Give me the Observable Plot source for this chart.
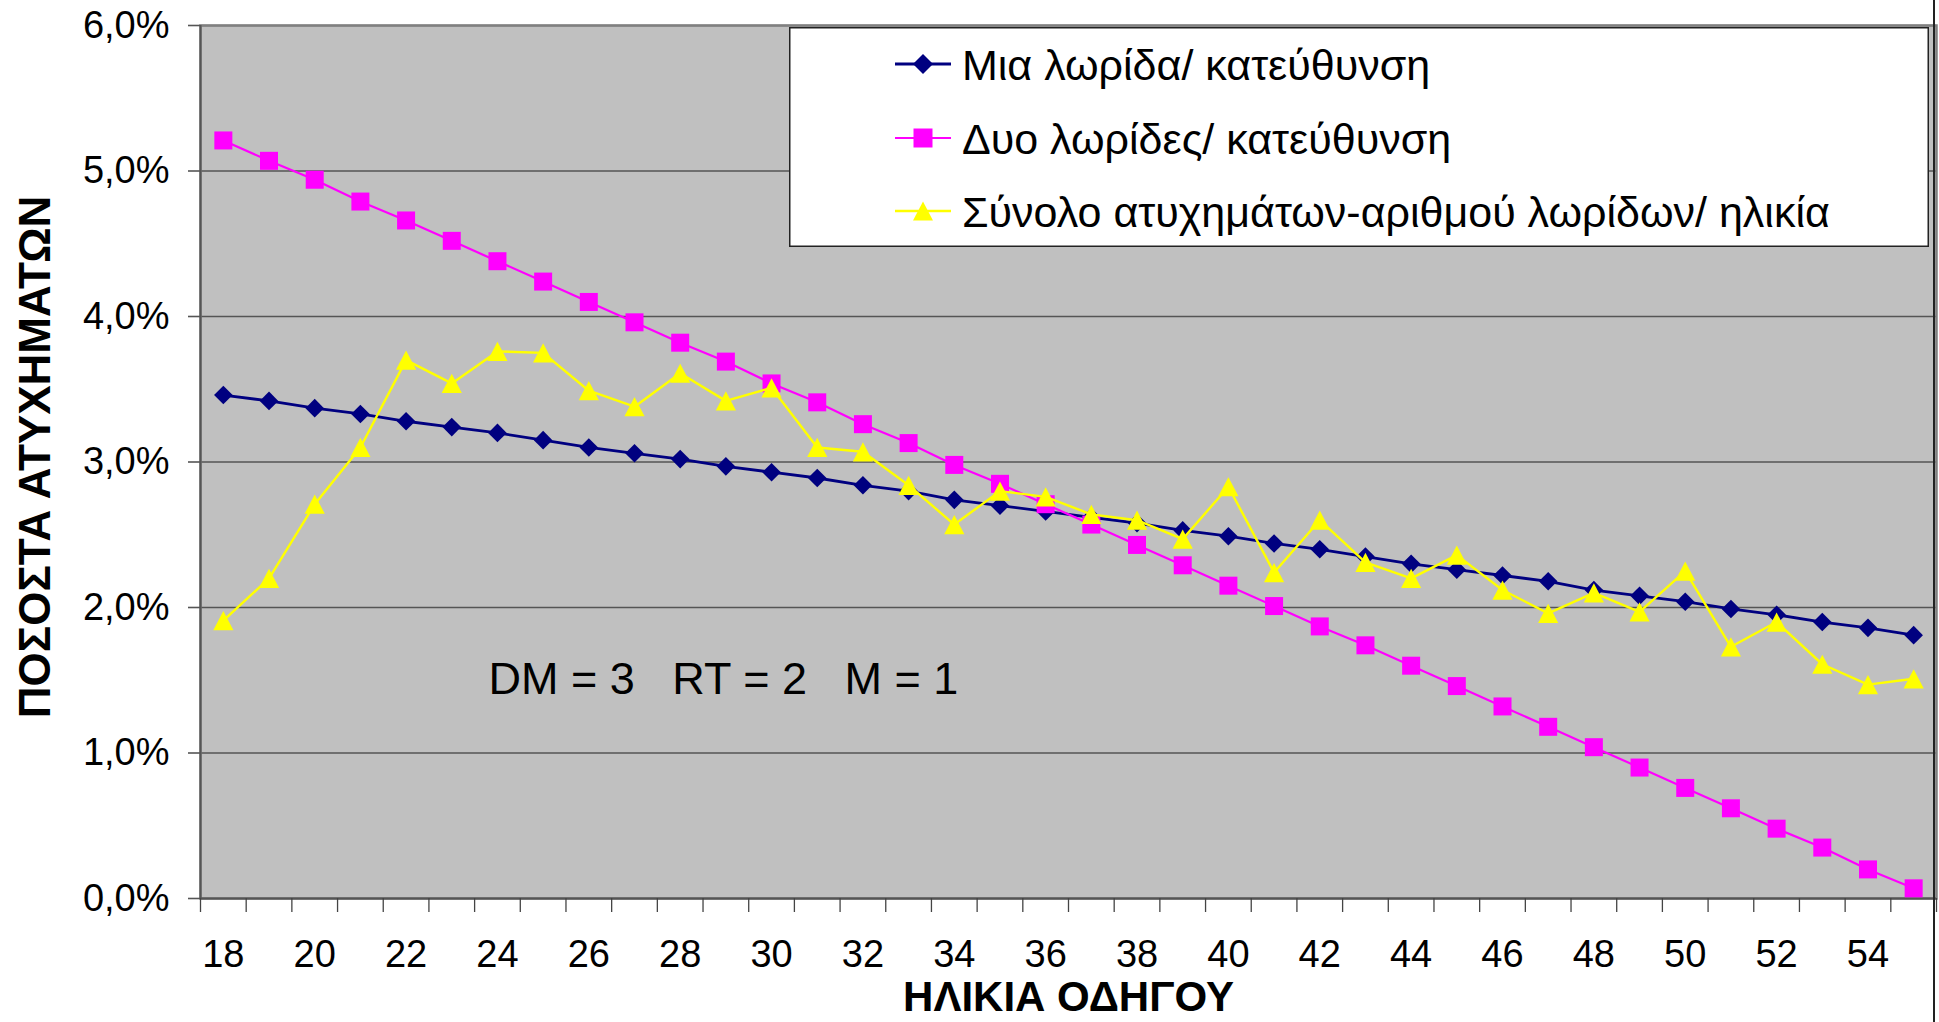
<!DOCTYPE html>
<html>
<head>
<meta charset="utf-8">
<script src="https://cdn.jsdelivr.net/npm/d3@7"></script>
<script src="https://cdn.jsdelivr.net/npm/@observablehq/plot@0.6"></script>
<style>
  html, body { margin: 0; padding: 0; background: #fff; overflow: hidden; }
  #wrap { position: relative; width: 1939px; height: 1022px; font-family: "Liberation Sans", Arial, sans-serif; }
  #legend { position: absolute; left: 789px; top: 27px; }
  #edge { position: absolute; left: 1933px; top: 0; width: 2px; height: 1022px; background: #222; }
</style>
</head>
<body>
<div id="wrap"><div id="chart"></div><div id="legend"></div><div id="edge"></div></div>
<script>
// ---- data ----
const ages = [18,19,20,21,22,23,24,25,26,27,28,29,30,31,32,33,34,35,36,37,38,39,40,41,42,43,44,45,46,47,48,49,50,51,52,53,54,55];
const oneLane = [3.46,3.42,3.37,3.33,3.28,3.24,3.20,3.15,3.10,3.06,3.02,2.97,2.93,2.89,2.84,2.80,2.74,2.70,2.66,2.62,2.58,2.53,2.49,2.44,2.40,2.35,2.30,2.26,2.22,2.18,2.12,2.08,2.04,1.99,1.95,1.90,1.86,1.81];
const twoLanes = [5.21,5.07,4.94,4.79,4.66,4.52,4.38,4.24,4.10,3.96,3.82,3.69,3.54,3.41,3.26,3.13,2.98,2.85,2.71,2.57,2.43,2.29,2.15,2.01,1.87,1.74,1.60,1.46,1.32,1.18,1.04,0.90,0.76,0.62,0.48,0.35,0.20,0.07];
const total = [1.91,2.20,2.71,3.10,3.70,3.54,3.76,3.75,3.49,3.38,3.61,3.42,3.51,3.10,3.07,2.84,2.57,2.80,2.76,2.64,2.60,2.47,2.83,2.24,2.60,2.31,2.20,2.36,2.12,1.96,2.10,1.97,2.25,1.73,1.90,1.61,1.47,1.51];
const seriesNames = ["Μια λωρίδα/ κατεύθυνση", "Δυο λωρίδες/ κατεύθυνση", "Σύνολο ατυχημάτων-αριθμού λωρίδων/ ηλικία"];
const yTicks = [0,1,2,3,4,5,6];
const xLabelTicks = [18,20,22,24,26,28,30,32,34,36,38,40,42,44,46,48,50,52,54];
const annotation = "DM = 3\u00a0\u00a0\u00a0RT = 2\u00a0\u00a0\u00a0M = 1";
const xTitle = "ΗΛΙΚΙΑ ΟΔΗΓΟΥ";
const yTitle = "ΠΟΣΟΣΤΑ ΑΤΥΧΗΜΑΤΩΝ";

// ---- styles ----
const colors = ["#000080", "#FF00FF", "#FFFF00"];
const widths = [2.8, 2.2, 2.4];
const diamond = {draw(ctx, size) { const r = Math.sqrt(size / Math.PI); ctx.moveTo(0, -r); ctx.lineTo(r, 0); ctx.lineTo(0, r); ctx.lineTo(-r, 0); ctx.closePath(); }};
const square = {draw(ctx, size) { const r = Math.sqrt(size / Math.PI); ctx.rect(-r, -r, 2 * r, 2 * r); }};
const triangle = {draw(ctx, size) { const r = Math.sqrt(size / Math.PI); ctx.moveTo(0, -r); ctx.lineTo(r * 1.05, r); ctx.lineTo(-r * 1.05, r); ctx.closePath(); }};
const symbols = [diamond, square, triangle];
const radii = [9.3, 9, 9.6];

const seriesValues = [oneLane, twoLanes, total];
const rows = seriesValues.map((vals, s) => ages.map((age, i) => ({age, value: vals[i], s})));
const boundaries = ages.map(a => a - 0.5).concat([ages[ages.length - 1] + 0.5]);
const fmtPct = d => d.toFixed(1).replace(".", ",") + "%";

const seriesMarks = rows.flatMap((data, s) => [
  Plot.line(data, {x: "age", y: "value", stroke: colors[s], strokeWidth: widths[s]}),
  Plot.dot(data, {x: "age", y: "value", symbol: symbols[s], r: radii[s], fill: colors[s], stroke: "none"})
]);

const chart = Plot.plot({
  width: 1939,
  height: 1022,
  marginLeft: 200,
  marginRight: 3,
  marginTop: 25,
  marginBottom: 124,
  style: {fontFamily: "'Liberation Sans', Arial, sans-serif", fontSize: "38px", color: "#000", background: "transparent"},
  x: {type: "linear", domain: [boundaries[0], boundaries[boundaries.length - 1]], label: null},
  y: {domain: [0, 6], label: null},
  marks: [
    Plot.frame({fill: "#C0C0C0"}),
    Plot.gridY(yTicks, {stroke: "#555", strokeOpacity: 1, strokeWidth: 1.6}),
    Plot.frame({stroke: "#808080", strokeWidth: 2.5}),
    Plot.ruleX([boundaries[0]], {stroke: "#555", strokeWidth: 2}),
    Plot.ruleY([0], {stroke: "#555", strokeWidth: 2}),
    Plot.axisY(yTicks, {tickSize: 12, tickPadding: 19, stroke: "#555", strokeWidth: 1.6, fontSize: 38, fill: "#000", tickFormat: fmtPct, label: null}),
    Plot.axisX(boundaries, {tickSize: 14, stroke: "#444", strokeWidth: 1.3, tickFormat: () => "", label: null}),
    Plot.axisX(xLabelTicks, {tickSize: 0, tickPadding: 42, fontSize: 38, fill: "#000", tickFormat: d => String(d), label: null}),
    ...seriesMarks,
    Plot.text([annotation], {text: d => d, frameAnchor: "top-left", dx: 288, dy: 654, textAnchor: "start", lineAnchor: "middle", fontSize: 45, fill: "#000"}),
    Plot.text([xTitle], {text: d => d, frameAnchor: "bottom", dy: 99, textAnchor: "middle", lineAnchor: "middle", fontSize: 42, fontWeight: "bold", fill: "#000"}),
    Plot.text([yTitle], {text: d => d, frameAnchor: "left", dx: -165, dy: -5, rotate: -90, textAnchor: "middle", lineAnchor: "middle", fontSize: 44, fontWeight: "bold", fill: "#000"})
  ]
});
document.getElementById("chart").appendChild(chart);

// ---- legend (overlay box on the plot area) ----
const LW = 1140, LH = 220;
const lsvg = d3.select("#legend").append("svg").attr("width", LW).attr("height", LH)
  .style("font-family", "'Liberation Sans', Arial, sans-serif");
lsvg.append("rect").attr("x", 0.75).attr("y", 0.75).attr("width", LW - 1.5).attr("height", LH - 1.5)
  .attr("fill", "#fff").attr("stroke", "#222").attr("stroke-width", 1.5);
const rowY = [37, 111, 184];
seriesNames.forEach((name, s) => {
  const g = lsvg.append("g").attr("transform", `translate(0,${rowY[s]})`);
  g.append("line").attr("x1", 106).attr("x2", 162).attr("y1", 0).attr("y2", 0)
    .attr("stroke", colors[s]).attr("stroke-width", widths[s]);
  const p = d3.path();
  symbols[s].draw(p, Math.PI * (s === 0 ? 10 : 9.5) ** 2);
  g.append("path").attr("d", p.toString()).attr("transform", "translate(134,0)").attr("fill", colors[s]);
  g.append("text").attr("x", 173).attr("y", 15.5).attr("font-size", 43).attr("fill", "#000").text(name);
});
</script>
</body>
</html>
